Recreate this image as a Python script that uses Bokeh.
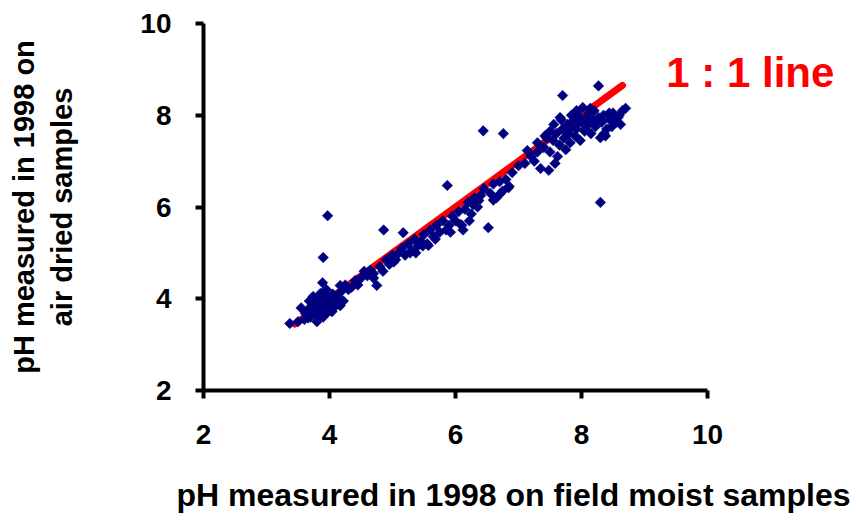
import math
from bokeh.plotting import figure
from bokeh.models import Range1d, Label, FixedTicker, Title
from bokeh.embed import file_html
from bokeh.resources import INLINE

# field moist pH (x) vs air dried pH (y)
field_moist = [
    3.37, 3.50, 3.60, 3.65, 3.70, 3.72, 3.75, 3.78, 3.80, 3.82, 3.85, 3.88, 3.90, 3.92,
    3.95, 3.97, 4.00, 4.02, 4.05, 4.08, 4.10, 4.12, 4.15, 4.18, 4.22, 4.25, 3.68, 3.74,
    3.86, 3.90, 3.95, 4.00, 3.62, 3.80, 4.30, 4.35, 4.41, 3.97, 3.90, 3.89, 4.17, 4.17, 4.45,
    4.50, 4.55, 4.60, 4.65, 4.70, 4.75, 4.80, 4.85, 4.86, 4.90, 4.95, 5.00, 5.05, 5.10,
    5.15, 5.17, 5.20, 5.25, 5.30, 5.35, 5.37, 5.40, 5.45, 5.50, 5.55, 5.57, 5.60, 5.65,
    5.70, 5.75, 5.80, 5.85, 5.87, 5.90, 5.95, 6.00, 6.05, 6.10, 6.15, 6.20, 6.25, 6.30,
    6.35, 6.37, 6.40, 6.44, 6.45, 6.52, 6.55, 6.60, 6.65, 6.70, 6.71, 6.75, 6.76, 6.80,
    6.84, 6.85, 6.90, 7.00, 7.10, 7.14, 7.20, 7.25, 7.30, 7.30,
    7.35, 7.48, 7.40, 7.45, 7.50, 7.55, 7.60, 7.62, 7.65, 7.70, 7.70, 7.72, 7.75, 7.78,
    7.80, 7.82, 7.85, 7.88, 7.90, 7.92, 7.95, 7.98, 8.00, 8.02, 8.05, 8.08, 8.10, 8.12,
    8.15, 8.18, 8.20, 8.22, 8.27, 8.27, 8.30, 8.30, 8.32, 8.35, 8.40, 8.45, 8.50, 8.55,
    8.60, 8.65, 7.50, 7.58, 7.68, 8.38, 8.48, 7.92, 7.42, 7.56, 7.66, 7.74, 7.84, 7.96,
    8.06, 8.14, 8.24, 8.36, 8.44, 8.58, 8.62, 8.70,
    3.55, 3.66, 3.76, 3.84, 3.93, 4.04, 4.70, 5.02, 5.28, 5.48, 5.68, 5.92, 6.08, 6.22,
    6.28, 6.60, 6.12,
]
air_dried = [
    3.46, 3.50, 3.55, 3.75, 3.60, 3.85, 3.70, 3.95, 3.65, 3.80, 4.00, 3.75, 3.90, 4.05,
    3.85, 3.70, 4.00, 3.90, 4.10, 3.95, 3.85, 4.05, 3.90, 4.15, 3.95, 4.30, 3.95, 4.05,
    4.12, 3.60, 4.20, 3.80, 3.68, 3.50, 4.20, 4.25, 4.40, 5.81, 4.90, 4.35, 4.29, 3.85, 4.30,
    4.45, 4.60, 4.50, 4.62, 4.55, 4.29, 4.70, 4.60, 5.50, 4.85, 4.75, 4.95, 4.85, 5.00,
    5.10, 5.44, 4.95, 5.20, 5.05, 5.30, 5.00, 5.15, 5.25, 5.40, 5.20, 5.16, 5.50, 5.35,
    5.60, 5.45, 5.70, 5.50, 6.47, 5.60, 5.80, 5.70, 5.90, 5.60, 5.95, 6.10, 5.85, 6.20,
    6.00, 6.14, 6.25, 7.66, 6.40, 5.55, 6.30, 6.50, 6.20, 6.55, 6.29, 6.35, 7.60, 6.60,
    6.42, 6.45, 6.75, 6.90, 6.95, 7.23, 7.10, 7.00, 7.20, 7.40,
    6.84, 6.80, 7.30, 7.50, 7.20, 7.45, 7.60, 7.10, 7.35, 8.43, 7.70, 7.50, 7.25, 7.80,
    7.60, 7.40, 7.75, 7.90, 7.55, 7.70, 8.00, 7.45, 7.85, 8.17, 7.65, 7.95, 7.80, 8.05,
    7.60, 7.90, 8.10, 7.75, 8.64, 7.95, 7.51, 6.10, 7.85, 8.00, 7.70, 7.90, 8.05, 7.85,
    8.00, 8.10, 7.65, 6.95, 7.90, 7.55, 7.75, 8.10, 7.55, 7.80, 7.95, 7.65, 8.00, 7.85,
    7.70, 8.15, 7.85, 7.60, 8.05, 7.95, 7.80, 8.15,
    3.80, 3.58, 3.88, 3.62, 4.10, 3.72, 4.45, 4.80, 5.00, 5.15, 5.30, 5.45, 5.62, 5.70,
    6.05, 6.15, 5.50,
]

# 1 : 1 reference line
line_x = [3.45, 8.65]
line_y = [3.45, 8.65]

x_ticks = [2, 4, 6, 8, 10]
y_ticks = [2, 4, 6, 8, 10]

FONT = "Liberation Sans"
PX_PER_X = 63.0  # frame pixels per x unit

p = figure(
    frame_width=653, frame_height=367,
    min_border_left=203, min_border_right=0, min_border_top=23, min_border_bottom=132,
    x_range=Range1d(2, 2 + 653 / PX_PER_X), y_range=Range1d(2, 10),
    output_backend="svg", toolbar_location=None,
)
p.outline_line_color = None
p.xgrid.visible = False
p.ygrid.visible = False
p.background_fill_color = "white"
p.border_fill_color = "white"

for ax, ticks in ((p.xaxis[0], x_ticks), (p.yaxis[0], y_ticks)):
    ax.ticker = FixedTicker(ticks=ticks)
    ax.bounds = (2, 10)
    ax.axis_line_width = 4
    ax.axis_line_color = "black"
    ax.major_tick_line_width = 4
    ax.major_tick_line_color = "black"
    ax.major_tick_out = 8
    ax.major_tick_in = 0
    ax.minor_tick_line_color = None
    ax.major_label_text_font = FONT
    ax.major_label_text_font_style = "bold"
    ax.major_label_text_font_size = "28px"
    ax.major_label_text_color = "black"
    ax.axis_label_text_font = FONT
    ax.axis_label_text_font_style = "bold"
    ax.axis_label_text_color = "black"

p.xaxis.major_label_standoff = 26
p.yaxis.major_label_standoff = 24
p.yaxis.axis_label = "pH measured in 1998 on\nair dried samples"
p.yaxis.axis_label_text_font_size = "29px"
p.yaxis.axis_label_standoff = 59

p.add_layout(Title(text="pH measured in 1998 on field moist samples", align="right",
                   offset=6, standoff=56, text_font=FONT, text_font_style="bold",
                   text_font_size="32px", text_color="black"), "below")

p.line(line_x, line_y, line_color="#FF0000", line_width=7, line_cap="round")
p.scatter(field_moist, air_dried, marker="square", size=7.5, angle=math.pi / 4,
          fill_color="#000080", line_color="#000080", line_width=0.5)

p.add_layout(Label(x=10.68, y=8.93, text="1 : 1 line",
                   text_align="center", text_baseline="middle", text_font=FONT,
                   text_font_style="bold", text_font_size="42px", text_color="#FF0000"))

open("out.html", "w").write(file_html(p, INLINE))
